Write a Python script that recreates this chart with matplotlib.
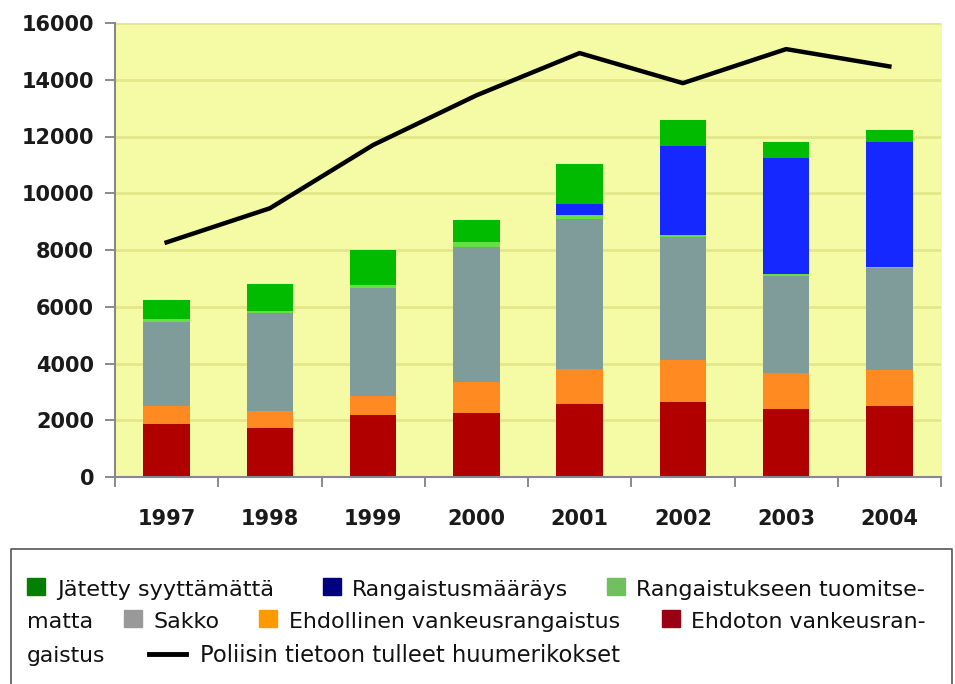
import matplotlib
matplotlib.use("Agg")
import matplotlib.pyplot as plt
import numpy as np

years = ["1997", "1998", "1999", "2000", "2001", "2002", "2003", "2004"]
ehdoton = [1880, 1710, 2180, 2270, 2560, 2650, 2410, 2490]
ehdollinen = [610, 620, 670, 1080, 1260, 1490, 1240, 1270]
sakko = [2980, 3440, 3800, 4740, 5290, 4310, 3450, 3590]
tuomitsematta = [90, 90, 120, 200, 120, 80, 60, 40]
rangaistusmaarays = [0, 0, 0, 0, 390, 3150, 4080, 4430]
jatetty = [670, 940, 1230, 770, 1400, 910, 550, 410]
poliisi = [8270, 9470, 11700, 13450, 14940, 13880, 15080, 14470]

series = [
    (ehdoton, "#B00000", "#9A0012", "Ehdoton vankeusrangaistus"),
    (ehdollinen, "#FF8A22", "#FF9900", "Ehdollinen vankeusrangaistus"),
    (sakko, "#809C9A", "#999999", "Sakko"),
    (tuomitsematta, "#66E040", "#70C060", "Rangaistukseen tuomitsematta"),
    (rangaistusmaarays, "#1428FF", "#000080", "Rangaistusmääräys"),
    (jatetty, "#00BB00", "#007F00", "Jätetty syyttämättä"),
]

W, H = 955, 684
fig = plt.figure(figsize=(W / 100, H / 100), dpi=100)
fig.patch.set_facecolor("white")

L, R, T, B = 115, 941, 23, 477
ax = fig.add_axes([L / W, 1 - B / H, (R - L) / W, (B - T) / H])
ax.set_facecolor("#F5FBA5")

x = np.arange(len(years))
bottom = np.zeros(len(years))
for vals, col, _, _ in series:
    v = np.array(vals, dtype=float)
    ax.bar(x, v, bottom=bottom, width=0.45, color=col, edgecolor="none", zorder=2)
    bottom += v

ax.plot(x, poliisi, color="black", lw=3.2, zorder=3, solid_joinstyle="round")

ax.set_xlim(-0.5, len(years) - 0.5)
ax.set_ylim(0, 16000)
ax.set_yticks(np.arange(0, 16001, 2000))
ax.yaxis.grid(True, color="#E2E88A", lw=2, zorder=0)
ax.set_axisbelow(True)

ax.set_xticks(x)
ax.set_xticklabels(years)
ax.set_xticks(np.arange(-0.5, len(years)), minor=True)
ax.tick_params(axis="x", which="major", length=0, pad=23)
ax.tick_params(axis="x", which="minor", length=7, color="#777777", width=1.2)
ax.tick_params(axis="y", length=7, color="#777777", width=1.2, pad=8)
for lab in ax.get_xticklabels() + ax.get_yticklabels():
    lab.set_fontweight("heavy")
    lab.set_fontsize(15)
    lab.set_color("#1a1a1a")
    lab.set_family("DejaVu Sans")

ax.spines["top"].set_visible(False)
ax.spines["right"].set_color("#F5FBA5")
ax.spines["left"].set_color("#888888")
ax.spines["bottom"].set_color("#888888")
ax.spines["left"].set_linewidth(1.5)
ax.spines["bottom"].set_linewidth(1.5)

# Legend box
lax = fig.add_axes([0, 0, 1, 1], facecolor="none")
lax.set_xlim(0, W)
lax.set_ylim(H, 0)
lax.axis("off")
lax.plot([11, 11, 952, 952], [H + 5, 549, 549, H + 5], color="#555555", lw=1.2)

fam = ["DejaVu Sans"]
fs = 14
renderer = fig.canvas.get_renderer()

def sq(x0, yb, col):
    lax.add_patch(plt.Rectangle((x0, yb - 17), 18, 17, color=col))

def txt(x0, yb, s, target=None):
    t = lax.text(x0, yb, s, fontsize=fs, family=fam, va="baseline", ha="left", color="#111111")
    if target:
        w = t.get_window_extent(renderer).width
        t.set_fontsize(fs * target / w)
    return t

c = {lab: lc for _, _, lc, lab in series}
y1, y2, y3 = 596, 628, 662
sq(27, y1 - 1, c["Jätetty syyttämättä"]); txt(57, y1, "Jätetty syyttämättä", 217)
sq(323, y1 - 1, c["Rangaistusmääräys"]); txt(352, y1, "Rangaistusmääräys", 215)
sq(607, y1 - 1, c["Rangaistukseen tuomitsematta"]); txt(636, y1, "Rangaistukseen tuomitse-", 289)
txt(27, y2, "matta", 66)
sq(124, y2 - 1, c["Sakko"]); txt(153, y2, "Sakko", 66)
sq(259, y2 - 1, c["Ehdollinen vankeusrangaistus"]); txt(289, y2, "Ehdollinen vankeusrangaistus", 331)
sq(662, y2 - 1, c["Ehdoton vankeusrangaistus"]); txt(691, y2, "Ehdoton vankeusran-", 234)
txt(27, y3, "gaistus", 78)
lax.plot([149, 186], [y3 - 8, y3 - 8], color="black", lw=3.5)
txt(200, y3, "Poliisin tietoon tulleet huumerikokset", 422)

fig.savefig("out.png", dpi=100)
